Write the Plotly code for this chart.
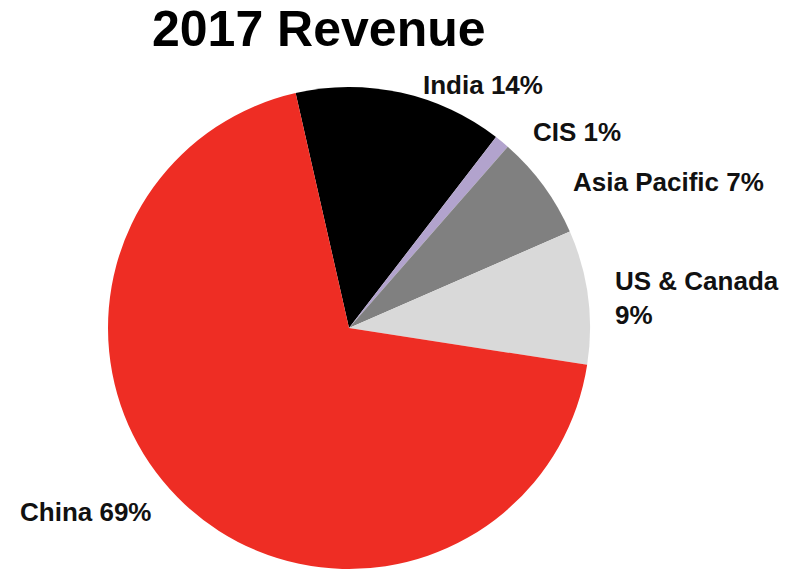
import plotly.graph_objects as go

regions = ["India", "CIS", "Asia Pacific", "US & Canada", "China"]
shares = [14, 1, 7, 9, 69]
colors = ["#000000", "#B2A3CD", "#808080", "#D9D9D9", "#EE2D24"]
label_texts = ["India 14%", "CIS 1%", "Asia Pacific 7%", "US & Canada<br>9%", "China 69%"]
title_text = "2017 Revenue"

W, H = 792, 572


def px2x(px):
    return px / W


def py2y(py):
    return 1 - py / H


fig = go.Figure(go.Pie(
    labels=regions,
    values=shares,
    sort=False,
    direction="clockwise",
    rotation=-12.8,
    marker=dict(colors=colors, line=dict(width=0)),
    textinfo="none",
    hoverinfo="label+percent",
    showlegend=False,
    domain=dict(x=[px2x(108), px2x(590)], y=[py2y(569), py2y(87)]),
))

# label anchor positions in pixels (left edge, vertical center)
label_px = [(421, 85), (531, 132), (571, 182), (613, 298), (18, 512)]
font = dict(family="Liberation Sans, Arial, sans-serif", size=26, color="#111111")
for txt, (px, py) in zip(label_texts, label_px):
    fig.add_annotation(
        x=px2x(px), y=py2y(py), xref="paper", yref="paper",
        text="<b>" + txt + "</b>", showarrow=False,
        xanchor="left", yanchor="middle", align="left",
        font=font,
    )

fig.add_annotation(
    x=px2x(319), y=py2y(29), xref="paper", yref="paper",
    text="<b>" + title_text + "</b>", showarrow=False,
    xanchor="center", yanchor="middle",
    font=dict(family="Liberation Sans, Arial, sans-serif", size=50, color="#000000"),
)

fig.update_layout(
    width=W, height=H,
    margin=dict(l=0, r=0, t=0, b=0),
    paper_bgcolor="white",
    plot_bgcolor="white",
)

fig.write_html(
    "out.html",
    config={"displayModeBar": False},
    post_script="document.body.style.margin='0';",
)
